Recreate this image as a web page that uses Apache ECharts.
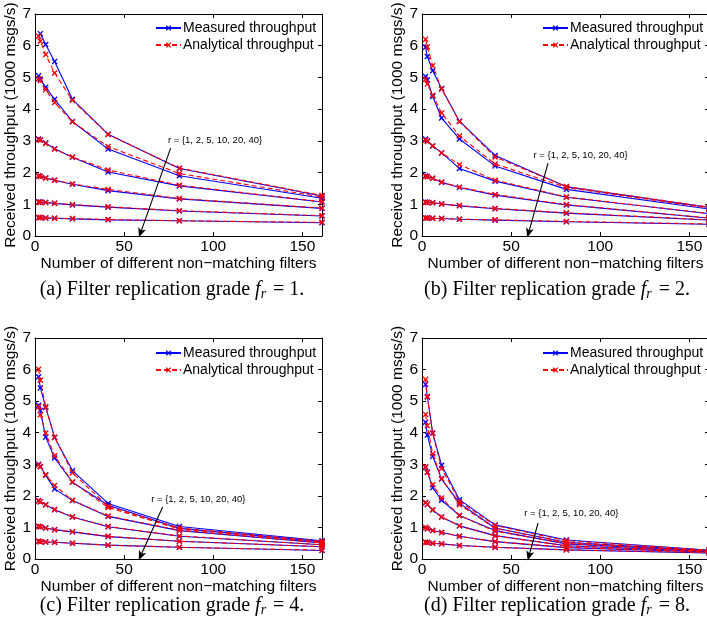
<!DOCTYPE html>
<html>
<head>
<meta charset="utf-8">
<script src="https://cdn.jsdelivr.net/npm/echarts@6/dist/echarts.min.js"></script>
<style>
  html, body { margin: 0; padding: 0; background: #ffffff; }
  #chart { width: 707px; height: 630px; }
</style>
</head>
<body>
<div id="chart"></div>
<script>
// Number of different non-matching filters (x positions of every curve)
const filterCounts = [2, 3, 6, 11, 21, 41, 81, 161];
// One curve per replication value r, top curve is r = 1
const replicationSets = [1, 2, 5, 10, 20, 40];
const panelTags = ['(a)', '(b)', '(c)', '(d)'];
const replicationGrades = [1, 2, 4, 8];
const yTicks = [0, 1, 2, 3, 4, 5, 6, 7];
const xTicks = [0, 50, 100, 150];

// Received throughput in 1000 msgs/s, rows follow replicationSets
const measuredFr1 = [
  [null, 6.38, 6.04, 5.50, 4.31, 3.21, 2.13, 1.26],
  [5.05, 4.94, 4.69, 4.31, 3.61, 2.74, 1.90, 1.19],
  [3.06, 3.03, 2.93, 2.75, 2.48, 2.02, 1.58, 1.07],
  [1.90, 1.88, 1.83, 1.76, 1.63, 1.43, 1.17, 0.87],
  [1.07, 1.07, 1.06, 1.03, 0.98, 0.91, 0.79, 0.63],
  [0.58, 0.58, 0.57, 0.56, 0.54, 0.51, 0.48, 0.42]
];
const analyticalFr1 = [
  [6.30, 6.14, 5.72, 5.14, 4.28, 3.20, 2.14, 1.28],
  [4.96, 4.90, 4.61, 4.21, 3.60, 2.82, 1.97, 1.23],
  [3.04, 3.02, 2.92, 2.74, 2.49, 2.08, 1.60, 1.08],
  [1.89, 1.88, 1.83, 1.76, 1.64, 1.47, 1.18, 0.88],
  [1.07, 1.06, 1.06, 1.03, 0.99, 0.92, 0.80, 0.64],
  [0.58, 0.58, 0.57, 0.56, 0.55, 0.52, 0.48, 0.43]
];
const measuredFr2 = [
  [5.95, 5.66, 5.21, 4.65, 3.62, 2.54, 1.55, 0.90],
  [5.03, 4.92, 4.40, 3.72, 3.06, 2.21, 1.47, 0.85],
  [3.06, 3.00, 2.84, 2.62, 2.13, 1.73, 1.22, 0.70],
  [1.90, 1.88, 1.82, 1.69, 1.53, 1.29, 0.98, 0.56],
  [1.07, 1.06, 1.05, 1.01, 0.95, 0.86, 0.72, 0.50],
  [0.57, 0.57, 0.56, 0.55, 0.53, 0.50, 0.45, 0.37]
];
const analyticalFr2 = [
  [6.20, 5.97, 5.37, 4.63, 3.61, 2.49, 1.56, 0.91],
  [4.94, 4.79, 4.44, 3.88, 3.15, 2.27, 1.53, 0.88],
  [3.03, 2.98, 2.84, 2.62, 2.25, 1.76, 1.23, 0.71],
  [1.88, 1.87, 1.82, 1.70, 1.54, 1.31, 0.99, 0.57],
  [1.06, 1.06, 1.05, 1.01, 0.96, 0.87, 0.73, 0.51],
  [0.57, 0.57, 0.56, 0.55, 0.53, 0.51, 0.46, 0.38]
];
const measuredFr4 = [
  [5.77, 5.42, 4.80, 3.85, 2.80, 1.76, 1.03, 0.58],
  [4.87, 4.70, 3.86, 3.20, 2.43, 1.70, 0.97, 0.55],
  [3.00, 2.93, 2.65, 2.22, 1.85, 1.35, 0.90, 0.51],
  [1.85, 1.81, 1.72, 1.56, 1.33, 1.02, 0.72, 0.45],
  [1.03, 1.02, 0.98, 0.93, 0.86, 0.71, 0.56, 0.39],
  [0.56, 0.55, 0.54, 0.53, 0.50, 0.44, 0.37, 0.27]
];
const analyticalFr4 = [
  [6.01, 5.66, 4.82, 3.86, 2.73, 1.67, 0.98, 0.56],
  [4.82, 4.57, 3.99, 3.27, 2.44, 1.63, 0.95, 0.53],
  [2.98, 2.92, 2.67, 2.33, 1.86, 1.36, 0.91, 0.51],
  [1.84, 1.81, 1.72, 1.57, 1.33, 1.03, 0.73, 0.45],
  [1.03, 1.02, 0.98, 0.93, 0.86, 0.72, 0.56, 0.39],
  [0.56, 0.55, 0.54, 0.53, 0.50, 0.44, 0.37, 0.28]
];
const measuredFr8 = [
  [5.53, 5.13, 3.99, 2.97, 1.88, 1.08, 0.60, 0.28],
  [4.33, 3.93, 3.25, 2.53, 1.77, 0.98, 0.53, 0.26],
  [2.90, 2.75, 2.26, 1.86, 1.38, 0.90, 0.48, 0.25],
  [1.78, 1.73, 1.55, 1.33, 1.05, 0.74, 0.42, 0.24],
  [1.00, 0.96, 0.90, 0.84, 0.72, 0.55, 0.36, 0.22],
  [0.53, 0.52, 0.50, 0.48, 0.43, 0.37, 0.29, 0.19]
];
const analyticalFr8 = [
  [5.69, 5.15, 3.98, 2.87, 1.83, 1.06, 0.58, 0.28],
  [4.58, 4.22, 3.33, 2.55, 1.72, 0.97, 0.52, 0.26],
  [2.92, 2.74, 2.35, 1.93, 1.38, 0.88, 0.49, 0.25],
  [1.79, 1.73, 1.56, 1.33, 1.05, 0.73, 0.42, 0.24],
  [1.00, 0.96, 0.90, 0.84, 0.72, 0.55, 0.37, 0.22],
  [0.53, 0.52, 0.50, 0.48, 0.43, 0.37, 0.29, 0.20]
];

// Annotation: label and arrow pointing along increasing r (data coordinates)
const annotationText = 'r = {' + replicationSets.join(', ') + '}';
const annotationAt = [[101, 3.03], [89, 2.55], [91.6, 1.88], [83.8, 1.43]];
const arrowFrom = [[76.1, 2.77], [70.7, 2.30], [71.6, 1.65], [65.1, 1.14]];
const arrowTo = [[59.2, 0.1], [59.8, 0.1], [59.3, 0.1], [60.0, 0.1]];

const measuredSets = [measuredFr1, measuredFr2, measuredFr4, measuredFr8];
const analyticalSets = [analyticalFr1, analyticalFr2, analyticalFr4, analyticalFr8];

// Panel layout in pixels
const panelBoxes = [
  { left: 35, top: 14, width: 287, height: 222 },
  { left: 422, top: 14, width: 287, height: 222 },
  { left: 35, top: 338, width: 287, height: 221 },
  { left: 422, top: 338, width: 287, height: 221 }
];
const legendSpots = [[155, 21], [542, 21], [155, 346], [542, 346]];
const captionSpots = [[172, 290], [557, 290], [172, 606], [557, 606]];

const SANS = '"Liberation Sans", Arial, Helvetica, sans-serif';
const SERIF = '"Liberation Serif", "Times New Roman", serif';
const BLUE = '#0000ff';
const RED = '#ff0000';
const crossMark = 'path://M0,1.6L1.6,0L5,3.4L8.4,0L10,1.6L6.6,5L10,8.4L8.4,10L5,6.6L1.6,10L0,8.4L3.4,5Z';
const arrowHead = 'path://M5,0L10,12L5,9L0,12Z';

const xMin = xTicks[0];
const xMax = filterCounts[filterCounts.length - 1];
const yMin = yTicks[0];
const yMax = yTicks[yTicks.length - 1];

const grids = [];
const xAxes = [];
const yAxes = [];
const series = [];
const legends = [];
const graphics = [];

panelBoxes.forEach((box, p) => {
  grids.push(Object.assign({ containLabel: false, outerBoundsMode: 'none', show: false }, box));

  const tickStyle = { show: true, inside: true, length: 4, lineStyle: { color: '#000', width: 1 } };
  const lineStyle = { show: true, onZero: false, lineStyle: { color: '#000', width: 1 } };

  xAxes.push({
    type: 'value', gridIndex: p, position: 'bottom', min: xMin, max: xMax, interval: 50,
    axisLine: lineStyle, axisTick: tickStyle, splitLine: { show: false },
    axisLabel: { show: true, margin: 3, color: '#000', fontSize: 15.5, fontFamily: SANS, showMaxLabel: false },
    name: 'Number of different non\u2212matching filters', nameLocation: 'middle', nameGap: 18,
    nameTextStyle: { color: '#000', fontSize: 15.5, fontFamily: SANS }
  });
  xAxes.push({
    type: 'value', gridIndex: p, position: 'top', min: xMin, max: xMax, interval: 50,
    axisLine: lineStyle, axisTick: tickStyle, splitLine: { show: false }, axisLabel: { show: false }
  });
  yAxes.push({
    type: 'value', gridIndex: p, position: 'left', min: yMin, max: yMax, interval: 1,
    axisLine: lineStyle, axisTick: tickStyle, splitLine: { show: false },
    axisLabel: { show: true, margin: 4, color: '#000', fontSize: 15.5, fontFamily: SANS },
    name: 'Received throughput (1000 msgs/s)', nameLocation: 'middle', nameGap: 14,
    nameTextStyle: { color: '#000', fontSize: 15.5, fontFamily: SANS }
  });
  yAxes.push({
    type: 'value', gridIndex: p, position: 'right', min: yMin, max: yMax, interval: 1,
    axisLine: lineStyle, axisTick: tickStyle, splitLine: { show: false }, axisLabel: { show: false }
  });

  const xi = p * 2;
  const yi = p * 2;

  replicationSets.forEach((r, k) => {
    const meas = measuredSets[p][k];
    const anal = analyticalSets[p][k];
    const measSeries = {
      type: 'line', name: 'Measured throughput', xAxisIndex: xi, yAxisIndex: yi,
      data: filterCounts.map((x, j) => [x, meas[j] === null ? '-' : meas[j]]),
      symbol: crossMark, symbolSize: 6, showSymbol: true, connectNulls: false,
      lineStyle: { color: BLUE, width: 1.1, type: 'solid' },
      itemStyle: { color: BLUE },
      animation: false, silent: true, z: 2
    };
    if (k === 0) {
      measSeries.clip = false;
      measSeries.markLine = {
        silent: true, animation: false,
        symbol: ['none', arrowHead], symbolSize: [8, 10], symbolKeepAspect: true,
        itemStyle: { color: '#000' },
        lineStyle: { color: '#000', width: 1.1, type: 'solid' },
        label: { show: false },
        data: [[{ coord: arrowFrom[p] }, { coord: arrowTo[p] }]]
      };
      measSeries.markPoint = {
        silent: true, animation: false, symbol: 'circle', symbolSize: 0,
        itemStyle: { color: 'transparent' },
        label: {
          show: true, position: 'inside', formatter: () => annotationText,
          color: '#000', fontSize: 9.5, fontFamily: SANS
        },
        data: [{ coord: annotationAt[p] }]
      };
    }
    series.push(measSeries);
    series.push({
      type: 'line', name: 'Analytical throughput', xAxisIndex: xi, yAxisIndex: yi,
      data: filterCounts.map((x, j) => [x, anal[j]]),
      symbol: crossMark, symbolSize: 6, showSymbol: true,
      lineStyle: { color: RED, width: 1.1, type: [5, 3] },
      itemStyle: { color: RED },
      animation: false, silent: true, z: 3
    });
  });

  legends.push({
    show: true, orient: 'vertical', left: legendSpots[p][0], top: legendSpots[p][1],
    itemWidth: 25, itemHeight: 7, itemGap: 3, padding: 0, selectedMode: false,
    data: ['Measured throughput', 'Analytical throughput'],
    textStyle: { color: '#000', fontSize: 14, fontFamily: SANS, padding: [0, 0, 0, -3] }
  });

  graphics.push({
    type: 'text', x: captionSpots[p][0], y: captionSpots[p][1], silent: true,
    style: {
      text: '{n|' + panelTags[p] + ' Filter replication grade }{i|f}{s|r}{n| = ' + replicationGrades[p] + '.}',
      align: 'center', verticalAlign: 'middle',
      rich: {
        n: { fontFamily: SERIF, fontSize: 20, fill: '#000', color: '#000' },
        i: { fontFamily: SERIF, fontSize: 20, fontStyle: 'italic', fill: '#000', color: '#000' },
        s: { fontFamily: SERIF, fontSize: 14, fontStyle: 'italic', fill: '#000', color: '#000', padding: [9, 2, 0, 0] }
      }
    }
  });
});

const chart = echarts.init(document.getElementById('chart'), null, { renderer: 'canvas' });
chart.setOption({
  backgroundColor: '#ffffff',
  animation: false,
  grid: grids,
  xAxis: xAxes,
  yAxis: yAxes,
  legend: legends,
  tooltip: { show: false },
  series: series,
  graphic: graphics
});
</script>
</body>
</html>
